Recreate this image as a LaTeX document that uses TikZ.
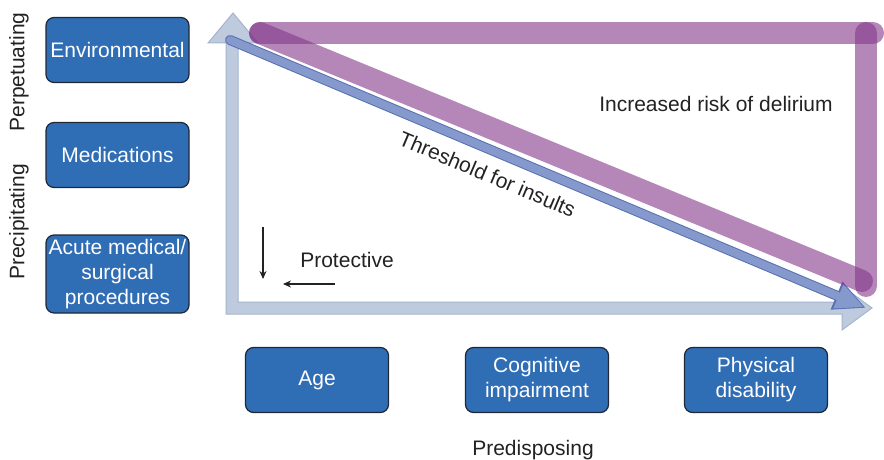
\documentclass[tikz,border=0pt]{standalone}
\usepackage{fontspec}
\setmainfont{Liberation Sans}
\usepackage{tikz}
\usetikzlibrary{arrows.meta,positioning,calc}
\definecolor{boxblue}{RGB}{47,109,181}
\definecolor{boxedge}{RGB}{30,40,55}
\definecolor{axisfill}{RGB}{190,202,221}
\definecolor{axisedge}{RGB}{165,180,206}
\definecolor{thrfill}{RGB}{134,153,204}
\definecolor{thredge}{RGB}{86,112,176}
\definecolor{riskpurple}{RGB}{130,55,137}
\definecolor{inktext}{RGB}{34,34,34}

\begin{document}
\begin{tikzpicture}[x=0.5pt,y=-0.5pt,
  riskbox/.style={draw=boxedge, line width=0.6pt, fill=boxblue, rounded corners=4pt, text=white, align=center,
    minimum width=71.5pt, minimum height=32.5pt, inner sep=1pt, font=\fontsize{10.5}{12.5}\selectfont},
  plain/.style={text=inktext, font=\fontsize{10.5}{12.5}\selectfont},
  band/.style={riskpurple, opacity=0.6, line width=11pt, line cap=round}]
\useasboundingbox (0,0) rectangle (884,460);
% Axes
\draw[fill=axisfill, draw=axisedge, line width=0.5pt] (226,314) -- (226,43) -- (208,43) -- (233,13) -- (258,43)
  -- (238,43) -- (238,302) -- (842,302) -- (842,286) -- (872,308) -- (842,330) -- (842,314) -- cycle;
% Threshold for insults
\coordinate (thrA) at (230,40);
\coordinate (thrB) at (866,308);
\draw[thredge, line width=5pt, line cap=round, -{Triangle[length=16pt,width=14pt]}] (thrA) -- (thrB);
\draw[thrfill, line width=4pt, line cap=round, -{Triangle[length=14pt,width=12pt]}, shorten >=1pt] (thrA) -- (thrB)
  node[plain, sloped, pos=0.419, below=6pt, inner sep=0pt] (thr) {Threshold for insults};
% Increased risk band
\coordinate (riskA) at (260,33);
\coordinate (riskB) at (873,33);
\coordinate (riskC) at (866,33);
\coordinate (riskD) at (866,286);
\coordinate (riskE) at (862,281);
\draw[band] (riskA) -- (riskB);
\draw[band] (riskC) -- (riskD);
\draw[band] (riskA) -- (riskE);
\node[plain] (risk) at (716,104) {Increased risk of delirium};
% Factor boxes
\node[riskbox] (env) at (117.5,50) {Environmental};
\node[riskbox] (med) at (117.5,155) {Medications};
\node[riskbox, minimum height=39pt] (acute) at (117.5,274) {Acute medical/\\surgical\\procedures};
\node[riskbox] (age) at (317,380) {Age};
\node[riskbox] (cog) at (537,380) {Cognitive\\impairment};
\node[riskbox] (phys) at (756,380) {Physical\\disability};
% Labels
\node[plain, rotate=90] (perp) at (19,72) {Perpetuating};
\node[plain, rotate=90] (prec) at (19,222) {Precipitating};
\node[plain] (pred) at (533,450) {Predisposing};
% Protective
\node[plain] (prot) at (347,260) {Protective};
\coordinate (downA) at (263,227);
\coordinate (downB) at (263,279);
\coordinate (leftA) at (335,284);
\coordinate (leftB) at (283,284);
\draw[inktext, line width=0.6pt, -{Stealth[length=4pt,width=3.5pt]}] (downA) -- (downB);
\draw[inktext, line width=0.6pt, -{Stealth[length=4pt,width=3.5pt]}] (leftA) -- (leftB);
\end{tikzpicture}
\end{document}
